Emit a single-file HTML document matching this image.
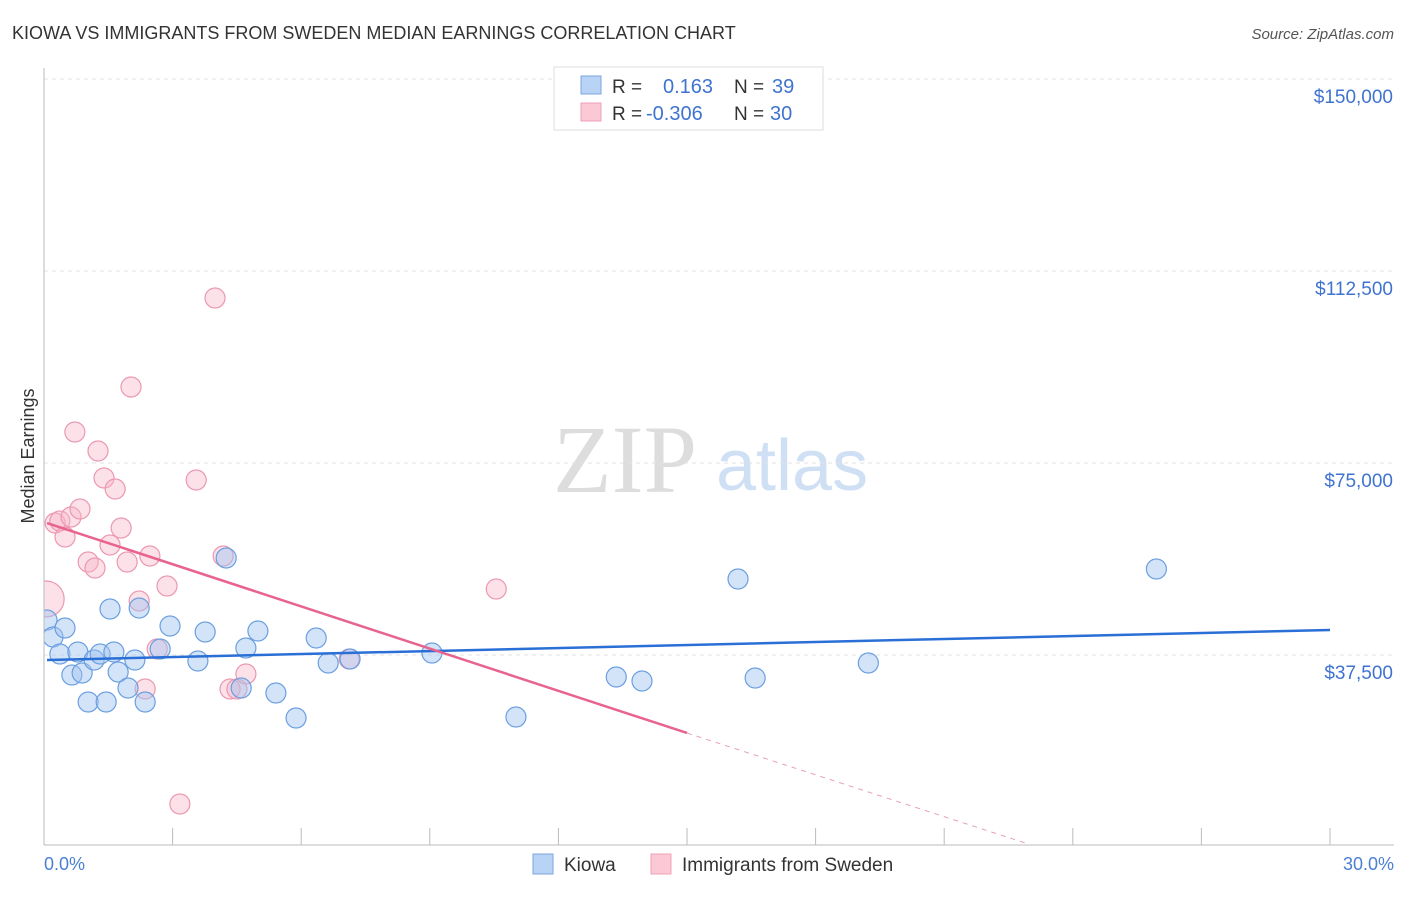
<!DOCTYPE html>
<html><head><meta charset="utf-8"><style>
body{margin:0;background:#fff;font-family:"Liberation Sans",sans-serif}
</style></head><body>
<svg width="1406" height="892" xmlns="http://www.w3.org/2000/svg" font-family="Liberation Sans, sans-serif">
<defs><clipPath id="plotclip"><rect x="44" y="60" width="1360" height="785"/></clipPath></defs>
<text x="12" y="39" font-size="18" fill="#333">KIOWA VS IMMIGRANTS FROM SWEDEN MEDIAN EARNINGS CORRELATION CHART</text>
<text x="1394" y="39" font-size="15" fill="#555" text-anchor="end" font-style="italic">Source: ZipAtlas.com</text>
<text x="553" y="492" font-size="96" fill="#ddd" font-family="Liberation Serif, serif">ZIP</text>
<text x="716" y="490" font-size="72" fill="#cfe0f5">atlas</text>
<g id="grid"></g>
<g id="marks" clip-path="url(#plotclip)"></g>
<line x1="44" y1="68" x2="44" y2="845" stroke="#bbb"/>
<line x1="44" y1="845" x2="1394" y2="845" stroke="#bbb"/>
<text transform="translate(34,456) rotate(-90)" font-size="18" fill="#333" text-anchor="middle">Median Earnings</text>
<text x="44" y="870" font-size="18" fill="#4a7fd4">0.0%</text>
<text x="1394" y="870" font-size="18" fill="#4a7fd4" text-anchor="end">30.0%</text>
<g>
<rect x="554" y="67" width="269" height="63" fill="#fff" stroke="#ddd"/>
<rect x="581" y="76" width="20" height="18" fill="#b8d3f5" stroke="#7aa6e0"/>
<rect x="581" y="103" width="20" height="18" fill="#fbc8d6" stroke="#eea0b6"/>
<text x="612" y="93" font-size="19" fill="#333">R =</text><text x="663" y="93" font-size="20" fill="#3f73d0">0.163</text>
<text x="734" y="93" font-size="19" fill="#333">N =</text><text x="772" y="93" font-size="20" fill="#3f73d0">39</text>
<text x="612" y="120" font-size="19" fill="#333">R =</text><text x="646" y="120" font-size="20" fill="#3f73d0">-0.306</text>
<text x="734" y="120" font-size="19" fill="#333">N =</text><text x="770" y="120" font-size="20" fill="#3f73d0">30</text>
</g>
<g>
<rect x="533" y="854" width="20" height="20" fill="#b8d3f5" stroke="#7aa6e0"/>
<text x="564" y="871" font-size="19" fill="#333">Kiowa</text>
<rect x="651" y="854" width="20" height="20" fill="#fbc8d6" stroke="#eea0b6"/>
<text x="682" y="871" font-size="19" fill="#333">Immigrants from Sweden</text>
</g>
</svg>
<script>
const yTicks=[37500,75000,112500,150000];
const yTickLabels=["$37,500","$75,000","$112,500","$150,000"];
const xTicks=[0,3,6,9,12,15,18,21,24,27,30];
const kiowaX=[0.07,0.21,0.37,0.49,0.65,0.79,0.89,1.03,1.17,1.31,1.45,1.54,1.63,1.73,1.96,2.12,2.22,2.36,2.71,2.94,3.59,3.76,4.25,4.60,4.71,4.99,5.41,5.88,6.35,6.63,7.14,9.05,11.01,13.35,13.95,16.19,16.59,19.23,25.95];
const kiowaY=[44336,41016,37695,42773,33594,38086,33984,28320,36523,37695,28320,46484,38086,34180,31055,36523,46680,28320,38672,43164,36328,41992,56445,31055,38867,42188,30078,25195,40820,35938,36719,37891,25391,33203,32422,52344,33008,35938,54297];
const swedenX=[0.05,0.26,0.37,0.49,0.63,0.72,0.84,1.03,1.19,1.26,1.40,1.54,1.66,1.80,1.94,2.03,2.22,2.36,2.47,2.64,2.87,3.17,3.55,3.99,4.18,4.34,4.50,4.71,7.12,10.55];
const swedenY=[48438,63281,63672,60547,64453,81055,66016,55664,54492,77344,72070,58984,69922,62305,55664,89844,48047,30859,56836,38672,50977,8398,71680,107227,56836,30859,30859,33789,36719,50391];
const kiowaTrend=[[0.07,36523],[30,42383]];
const swedenTrend=[[0.07,63281],[15,22266]];
const swedenTrendExt=[[15,22266],[22.89,781]];
const NS="http://www.w3.org/2000/svg";
const sx=v=>44+v/30*1286;
const sy=v=>847-v/37500*192;
const grid=document.getElementById('grid'),marks=document.getElementById('marks');
function mk(t,a,p){const e=document.createElementNS(NS,t);for(const k in a)e.setAttribute(k,a[k]);p.appendChild(e);return e;}
yTicks.forEach((v,i)=>{
 const l=mk('line',{x1:44,x2:1394,y1:sy(v),y2:sy(v),stroke:'#e2e2e2','stroke-dasharray':'4,4'},grid);
 
 
 const t=mk('text',{x:1393,y:sy(v)+24,'font-size':19,fill:'#3f73d0','text-anchor':'end'},grid);
 t.textContent=yTickLabels[i];
 
 
});
xTicks.forEach(v=>{
 const l=mk('line',{x1:sx(v),x2:sx(v),y1:828,y2:845,stroke:'#bbb'},grid);
 
 
});
function dots(X,Y,fill,stroke,name){
 X.forEach((x,i)=>{
  const r=(name==='sweden-point'&&i===0)?18:10;
  const c=mk('circle',{cx:sx(x),cy:sy(Y[i]),r:r,fill:fill,stroke:stroke,'stroke-width':1.2},marks);
  
  
 });
}
dots(swedenX,swedenY,'rgba(248,180,200,0.4)','#eb98b1','sweden-point');
dots(kiowaX,kiowaY,'rgba(160,196,240,0.45)','#6b9fe0','kiowa-point');
function line(p,col,w,dash,name){
 const l=mk('line',{x1:sx(p[0][0]),y1:sy(p[0][1]),x2:sx(p[1][0]),y2:sy(p[1][1]),stroke:col,'stroke-width':w},marks);
 if(dash)l.setAttribute('stroke-dasharray',dash);
 
 
}
line(kiowaTrend,'#2a6fd6',2.5,null,'kiowa-trend-line');
line(swedenTrend,'#e8648e',2.5,null,'sweden-trend-line');
line(swedenTrendExt,'#e8a0b5',1,'5,5','sweden-trend-extension');
</script>
</body></html>
